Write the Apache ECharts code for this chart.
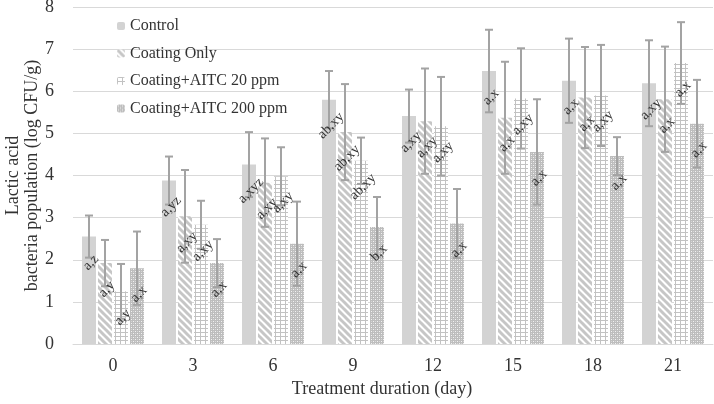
<!DOCTYPE html>
<html>
<head>
<meta charset="utf-8">
<script src="https://cdn.jsdelivr.net/npm/echarts@6/dist/echarts.min.js"></script>
<style>html,body{margin:0;padding:0;background:#fff}#c{width:714px;height:404px}</style>
</head>
<body>
<div id="c"></div>
<script>
const categories = ['0', '3', '6', '9', '12', '15', '18', '21'];
const seriesNames = ['Control', 'Coating Only', 'Coating+AITC 20 ppm', 'Coating+AITC 200 ppm'];
const control      = [2.55, 3.88, 4.26, 5.80, 5.41, 6.48, 6.25, 6.19];
const controlErr   = [0.50, 0.57, 0.77, 0.68, 0.63, 0.98, 1.00, 1.02];
const coating      = [1.92, 3.03, 3.83, 5.03, 5.29, 5.37, 5.85, 5.81];
const coatingErr   = [0.55, 1.10, 1.05, 1.14, 1.25, 1.33, 1.20, 1.25];
const aitc20       = [1.25, 2.83, 3.98, 4.35, 5.17, 5.83, 5.90, 6.67];
const aitc20Err    = [0.65, 0.57, 0.69, 0.55, 1.17, 1.19, 1.20, 0.97];
const aitc200      = [1.80, 1.92, 2.38, 2.78, 2.86, 4.56, 4.46, 5.23];
const aitc200Err   = [0.87, 0.57, 1.00, 0.71, 0.82, 1.25, 0.45, 1.04];
const controlLbl   = ['a,z', 'a,yz', 'a,xyz', 'ab,xy', 'a,xy', 'a,x', 'a,x', 'a,xy'];
const coatingLbl   = ['a,y', 'a,xy', 'a,xy', 'ab,xy', 'a,xy', 'a,x', 'a,x', 'a,x'];
const aitc20Lbl    = ['a,y', 'a,xy', 'a,xy', 'ab,xy', 'a,xy', 'a,xy', 'a,xy', 'a,x'];
const aitc200Lbl   = ['a,x', 'a,x', 'a,x', 'b,x', 'a,x', 'a,x', 'a,x', 'a,x'];
const yTicks = [0, 8, 1];

const values = [control, coating, aitc20, aitc200];
const errs = [controlErr, coatingErr, aitc20Err, aitc200Err];
const lbls = [controlLbl, coatingLbl, aitc20Lbl, aitc200Lbl];

function mk(w, h, draw) {
  const c = document.createElement('canvas');
  c.width = w; c.height = h;
  const g = c.getContext('2d');
  draw(g, w, h);
  return c;
}
const stripes = mk(7, 7, (g, w, h) => {
  g.fillStyle = '#fff'; g.fillRect(0, 0, w, h);
  g.strokeStyle = '#c6c6c6'; g.lineWidth = 3;
  for (let k = -1; k <= 1; k++) {
    g.beginPath(); g.moveTo(k * w - 1, -1); g.lineTo(k * w + w + 1, h + 1); g.stroke();
  }
});
const grid = mk(5, 4, (g, w, h) => {
  g.fillStyle = '#fff'; g.fillRect(0, 0, w, h);
  g.fillStyle = '#c2c2c2';
  g.fillRect(0, 0, 1, h);
  g.fillRect(0, 0, w, 1);
});
const dots = mk(4, 4, (g, w, h) => {
  g.fillStyle = '#bdbdbd'; g.fillRect(0, 0, w, h);
  g.fillStyle = '#f2f2f2';
  g.fillRect(1, 1, 1, 1); g.fillRect(3, 3, 1, 1);
  g.fillStyle = '#d6d6d6';
  g.fillRect(3, 1, 1, 1); g.fillRect(1, 3, 1, 1);
});
const fills = ['#d3d3d3', {image: stripes, repeat: 'repeat'}, {image: grid, repeat: 'repeat'}, {image: dots, repeat: 'repeat'}];
const offsets = [-24, -8, 8, 24];
const FONT = '"Liberation Serif", "DejaVu Serif", serif';

const series = [];
values.forEach((v, s) => {
  series.push({
    name: seriesNames[s], type: 'bar', data: v, barWidth: 14, barGap: '14.3%',
    itemStyle: {color: fills[s]}, z: 2
  });
});
values.forEach((v, s) => {
  series.push({
    type: 'custom', z: 5, silent: true,
    data: v.map((val, i) => [i, val, errs[s][i]]),
    renderItem: (params, api) => {
      const i = api.value(0), val = api.value(1), e = api.value(2);
      const x = api.coord([i, val])[0] + offsets[s];
      const yTop = api.coord([i, val + e])[1];
      const yBot = api.coord([i, val - e])[1];
      const yV = api.coord([i, val])[1];
      const ls = {stroke: '#a3a3a3', lineWidth: 2};
      return {
        type: 'group',
        children: [
          {type: 'line', shape: {x1: x, y1: yTop, x2: x, y2: yBot}, style: ls},
          {type: 'line', shape: {x1: x - 4, y1: yTop, x2: x + 4, y2: yTop}, style: ls},
          {type: 'line', shape: {x1: x - 4, y1: yBot, x2: x + 4, y2: yBot}, style: ls},
          {type: 'text', x: x + 2, y: yV + 26, rotation: Math.PI / 4,
           style: {text: lbls[s][i], x: 0, y: 0, align: 'center', verticalAlign: 'middle',
                   font: '14px ' + FONT, fill: '#333'}}
        ]
      };
    }
  });
});

const chart = echarts.init(document.getElementById('c'), null, {renderer: 'canvas'});
chart.setOption({
  animation: false,
  backgroundColor: '#fff',
  textStyle: {fontFamily: FONT},
  grid: {left: 73, right: 1, top: 7, bottom: 60, containLabel: false, outerBoundsMode: 'none'},
  legend: {
    orient: 'vertical', left: 112, top: 13, itemWidth: 8, itemHeight: 8, itemGap: 11.5,
    data: seriesNames,
    textStyle: {fontFamily: FONT, fontSize: 16, color: '#333'}
  },
  xAxis: {
    type: 'category', data: categories,
    axisTick: {show: false},
    axisLine: {lineStyle: {color: '#d9d9d9', width: 1}},
    axisLabel: {fontFamily: FONT, fontSize: 18, color: '#333', margin: 13},
    name: 'Treatment duration (day)', nameLocation: 'middle', nameGap: 33,
    nameTextStyle: {fontFamily: FONT, fontSize: 18, color: '#333', padding: [0, 22, 0, 0]}
  },
  yAxis: {
    type: 'value', min: yTicks[0], max: yTicks[1], interval: yTicks[2],
    axisLine: {show: false}, axisTick: {show: false},
    splitLine: {lineStyle: {color: '#d9d9d9', width: 1}},
    axisLabel: {fontFamily: FONT, fontSize: 18, color: '#333', margin: 19},
    name: 'Lactic acid\nbacteria population (log CFU/g)', nameLocation: 'middle', nameGap: 31,
    nameMoveOverlap: false,
    nameTextStyle: {fontFamily: FONT, fontSize: 18, color: '#333', lineHeight: 19}
  },
  series: series
});
</script>
</body>
</html>
